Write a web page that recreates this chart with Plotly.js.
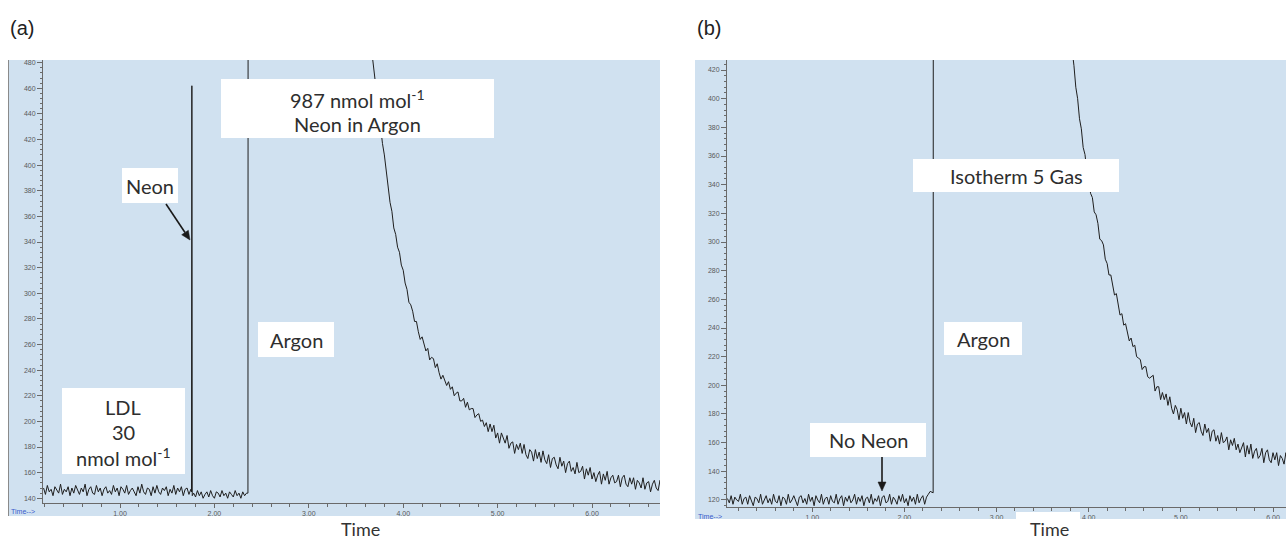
<!DOCTYPE html>
<html><head><meta charset="utf-8">
<script src="https://cdn.plot.ly/plotly-3.0.1.min.js"></script>
<style>html,body{margin:0;padding:0;background:#fff}#chart{width:1286px;height:541px}</style>
</head><body><div id="chart"></div>
<script>
// ---------- Panel (a): 987 nmol/mol Neon in Argon (time in min, detector response) ----------
const aBaseT = [0.19,0.21,0.23,0.25,0.27,0.29,0.31,0.33,0.35,0.37,0.39,0.41,0.43,0.45,0.47,0.49,0.51,0.53,0.55,0.57,0.59,0.61,0.63,0.65,0.67,0.69,0.71,0.73,0.75,0.77,0.79,0.81,0.83,0.85,0.87,0.89,0.91,0.93,0.95,0.97,0.99,1.01,1.03,1.05,1.07,1.09,1.11,1.13,1.15,1.17,1.19,1.21,1.23,1.25,1.27,1.29,1.31,1.33,1.35,1.37,1.39,1.41,1.43,1.45,1.47,1.49,1.51,1.53,1.55,1.57,1.59,1.61,1.63,1.65,1.67,1.69,1.71,1.73,1.75];
const aBaseV = [148,143,150,145,147,142,149,146,144,151,143,147,145,149,142,148,144,150,146,143,148,145,151,142,147,149,144,143,150,145,148,142,147,149,144,146,143,150,145,148,142,149,147,144,150,143,146,148,145,142,149,144,151,145,143,148,147,142,149,144,150,145,143,148,146,149,142,147,144,150,143,148,145,149,142,147,148,143,147];
const aNeonT = [1.757,1.761,1.765];
const aNeonV = [145,462,142];
const aGapT = [1.78,1.80,1.82,1.84,1.86,1.88,1.90,1.92,1.94,1.96,1.98,2.00,2.02,2.04,2.06,2.08,2.10,2.12,2.14,2.16,2.18,2.20,2.22,2.24,2.26,2.28,2.30,2.32,2.34];
const aGapV = [144,141,146,142,145,140,143,145,141,146,142,140,145,144,141,146,142,144,140,145,143,141,146,142,144,140,145,142,144];
const aArgonT = [2.355,2.36,3.62];
const aArgonV = [144,1200,1200];
const aDecayT = [3.66,3.68,3.70,3.72,3.74,3.76,3.78,3.80,3.82,3.84,3.86,3.88,3.90,3.92,3.94,3.96,3.98,4.00,4.02,4.04,4.06,4.08,4.10,4.12,4.14,4.16,4.18,4.20,4.22,4.24,4.26,4.28,4.30,4.32,4.34,4.36,4.38,4.40,4.42,4.44,4.46,4.48,4.50,4.52,4.54,4.56,4.58,4.60,4.62,4.64,4.66,4.68,4.70,4.72,4.74,4.76,4.78,4.80,4.82,4.84,4.86,4.88,4.90,4.92,4.94,4.96,4.98,5.00,5.02,5.04,5.06,5.08,5.10,5.12,5.14,5.16,5.18,5.20,5.22,5.24,5.26,5.28,5.30,5.32,5.34,5.36,5.38,5.40,5.42,5.44,5.46,5.48,5.50,5.52,5.54,5.56,5.58,5.60,5.62,5.64,5.66,5.68,5.70,5.72,5.74,5.76,5.78,5.80,5.82,5.84,5.86,5.88,5.90,5.92,5.94,5.96,5.98,6.00,6.02,6.04,6.06,6.08,6.10,6.12,6.14,6.16,6.18,6.20,6.22,6.24,6.26,6.28,6.30,6.32,6.34,6.36,6.38,6.40,6.42,6.44,6.46,6.48,6.50,6.52,6.54,6.56,6.58,6.60,6.62,6.64,6.66,6.68,6.70,6.72,6.74];
const aDecayV = [493,480,465,455,440,431,417,408,394,385,371,364,351,346,336,332,322,318,308,303,293,291,286,278,278,270,264,266,261,255,257,248,250,249,242,245,238,233,236,232,228,231,225,227,220,222,223,216,216,218,211,215,209,210,210,203,205,206,200,201,196,199,192,198,192,197,187,191,183,191,186,183,189,179,183,184,175,182,178,183,175,182,174,171,178,176,169,178,171,176,168,177,170,167,174,164,171,172,166,163,172,165,169,160,167,169,161,164,159,168,160,161,165,155,163,158,164,155,160,153,158,161,151,159,154,161,151,156,158,152,153,158,149,156,158,151,149,156,151,156,147,154,152,148,156,147,152,153,145,151,154,148,146,154,148];

// ---------- Panel (b): Isotherm 5 Gas ----------
const bBaseT = [0.08,0.10,0.12,0.14,0.16,0.18,0.20,0.22,0.24,0.26,0.28,0.30,0.32,0.34,0.36,0.38,0.40,0.42,0.44,0.46,0.48,0.50,0.52,0.54,0.56,0.58,0.60,0.62,0.64,0.66,0.68,0.70,0.72,0.74,0.76,0.78,0.80,0.82,0.84,0.86,0.88,0.90,0.92,0.94,0.96,0.98,1.00,1.02,1.04,1.06,1.08,1.10,1.12,1.14,1.16,1.18,1.20,1.22,1.24,1.26,1.28,1.30,1.32,1.34,1.36,1.38,1.40,1.42,1.44,1.46,1.48,1.50,1.52,1.54,1.56,1.58,1.60,1.62,1.64,1.66,1.68,1.70,1.72,1.74,1.76,1.78,1.80,1.82,1.84,1.86,1.88,1.90,1.92,1.94,1.96,1.98,2.00,2.02,2.04,2.06,2.08,2.10,2.12,2.14,2.16,2.18,2.20,2.22,2.24,2.26,2.28];
const bBaseV = [121,118,123,117,122,120,119,124,117,121,122,117,123,119,116,122,121,118,124,117,120,123,118,121,117,124,119,118,123,116,122,121,117,124,118,120,123,119,116,122,123,118,121,117,124,119,122,116,123,120,118,124,117,121,122,117,123,119,118,124,117,121,123,116,122,119,123,118,120,124,117,122,119,123,116,121,122,118,124,117,121,119,123,116,122,123,118,119,124,117,122,120,117,123,119,124,118,121,116,123,119,122,117,124,118,121,123,117,122,124,126];
const bArgonT = [2.312,2.317,3.78];
const bArgonV = [125,1200,1200];
const bDecayT = [3.82,3.84,3.86,3.88,3.90,3.92,3.94,3.96,3.98,4.00,4.02,4.04,4.06,4.08,4.10,4.12,4.14,4.16,4.18,4.20,4.22,4.24,4.26,4.28,4.30,4.32,4.34,4.36,4.38,4.40,4.42,4.44,4.46,4.48,4.50,4.52,4.54,4.56,4.58,4.60,4.62,4.64,4.66,4.68,4.70,4.72,4.74,4.76,4.78,4.80,4.82,4.84,4.86,4.88,4.90,4.92,4.94,4.96,4.98,5.00,5.02,5.04,5.06,5.08,5.10,5.12,5.14,5.16,5.18,5.20,5.22,5.24,5.26,5.28,5.30,5.32,5.34,5.36,5.38,5.40,5.42,5.44,5.46,5.48,5.50,5.52,5.54,5.56,5.58,5.60,5.62,5.64,5.66,5.68,5.70,5.72,5.74,5.76,5.78,5.80,5.82,5.84,5.86,5.88,5.90,5.92,5.94,5.96,5.98,6.00,6.02,6.04,6.06,6.08,6.10,6.12,6.14,6.16];
const bDecayV = [434,423,408,400,386,379,366,361,349,345,334,331,321,319,313,302,301,298,288,285,277,277,271,263,264,255,249,250,242,243,238,231,233,227,228,220,219,218,211,213,213,206,205,206,207,196,199,199,190,195,190,194,186,192,184,180,186,183,176,184,177,181,173,181,174,171,177,167,173,174,168,165,173,167,170,161,168,169,161,165,159,167,160,161,164,155,162,158,163,155,159,153,157,160,150,158,152,159,149,154,156,149,151,156,146,153,155,148,146,153,148,153,144,151,149,145,153,144];

// ---------- Tick labels ----------
const xTickVals = [1,2,3,4,5,6];
const xTickText = ['1.00','2.00','3.00','4.00','5.00','6.00'];

const W = 1286, H = 541;
const px = x => x / W, py = y => 1 - y / H;

const aT = [].concat(aBaseT, aNeonT, aGapT, aArgonT, aDecayT);
const aV = [].concat(aBaseV, aNeonV, aGapV, aArgonV, aDecayV);
const bT = [].concat(bBaseT, bArgonT, bDecayT);
const bV = [].concat(bBaseV, bArgonV, bDecayV);

const lineStyle = {color: '#1e1e1e', width: 1};
const traces = [
  {x: aT, y: aV, type: 'scatter', mode: 'lines', line: lineStyle, xaxis: 'x', yaxis: 'y', hoverinfo: 'skip', showlegend: false},
  {x: bT, y: bV, type: 'scatter', mode: 'lines', line: lineStyle, xaxis: 'x2', yaxis: 'y2', hoverinfo: 'skip', showlegend: false}
];

const tickFont = {family: 'Liberation Sans, Arial, sans-serif', size: 7, color: '#5a5a5a'};
function xAxis(domain, range, anchor) {
  return {domain, range, anchor, showline: true, linecolor: '#6a6a6a', linewidth: 1,
    ticks: 'outside', ticklen: 4, tickcolor: '#6a6a6a', tickwidth: 1,
    tickmode: 'array', tickvals: xTickVals, ticktext: xTickText, tickfont: tickFont,
    minor: {dtick: 0.2, tick0: 0, ticks: 'outside', ticklen: 3, tickcolor: '#6a6a6a', showgrid: false},
    showgrid: false, zeroline: false, fixedrange: true};
}
function yAxis(domain, range, anchor) {
  return {domain, range, anchor, showline: true, linecolor: '#6a6a6a', linewidth: 1,
    ticks: 'outside', ticklen: 5, tickcolor: '#6a6a6a', tickwidth: 1,
    dtick: 20, tick0: 0, tickfont: tickFont,
    minor: {dtick: 4, tick0: 0, ticks: 'outside', ticklen: 2.5, tickcolor: '#6a6a6a', showgrid: false},
    showgrid: false, zeroline: false, fixedrange: true};
}

const BLUE = 'rgb(208,225,240)';
function rect(x0, y0, x1, y1, fill, layer) {
  return {type: 'rect', xref: 'paper', yref: 'paper', x0: px(x0), x1: px(x1), y0: py(y1), y1: py(y0),
    fillcolor: fill, line: {width: 0}, layer: layer};
}
function arrowShapes(hx, hy, tx, ty) {
  const dx = hx - tx, dy = hy - ty, L = Math.hypot(dx, dy);
  const ux = dx / L, uy = dy / L, len = 9, hw = 4;
  const bx = hx - ux * len, by = hy - uy * len;
  const p1x = bx - uy * hw, p1y = by + ux * hw, p2x = bx + uy * hw, p2y = by - ux * hw;
  return [
    {type: 'line', xref: 'paper', yref: 'paper', x0: px(tx), y0: py(ty), x1: px(bx), y1: py(by),
      line: {color: '#1a1a1a', width: 1.6}, layer: 'above'},
    {type: 'path', xref: 'paper', yref: 'paper',
      path: `M ${px(hx)} ${py(hy)} L ${px(p1x)} ${py(p1y)} L ${px(p2x)} ${py(p2y)} Z`,
      fillcolor: '#1a1a1a', line: {color: '#1a1a1a', width: 0.5}, layer: 'above'}
  ];
}
const shapes = [
  rect(8, 60, 660, 516, BLUE, 'below'),
  rect(695, 60, 1286, 519, BLUE, 'below'),
  {type: 'line', xref: 'paper', yref: 'paper', x0: px(8.5), x1: px(8.5), y0: py(516), y1: py(60), line: {color: '#8a8a8a', width: 1}, layer: 'below'},
  rect(0, 0, 1286, 60, '#ffffff', 'above'),
  rect(680, 519, 1286, 541, '#ffffff', 'above'),
  rect(1016, 512, 1080, 541, '#ffffff', 'above'),
  rect(221, 79, 494, 138, '#ffffff', 'above'),
  rect(122, 168, 178, 203, '#ffffff', 'above'),
  rect(258, 322, 334, 357, '#ffffff', 'above'),
  rect(62, 388, 185, 474, '#ffffff', 'above'),
  rect(913, 159, 1119, 192, '#ffffff', 'above'),
  rect(944, 322, 1022, 355, '#ffffff', 'above'),
  rect(810, 423, 926, 457, '#ffffff', 'above')
].concat(arrowShapes(190, 240, 166, 204), arrowShapes(882, 491, 882, 457));

const boxFont = {family: 'Lato, Liberation Sans, sans-serif', size: 20, color: '#2e2e2e'};
function txt(x, y, text, font, xanchor) {
  return {xref: 'paper', yref: 'paper', x: px(x), y: py(y), text, showarrow: false,
    xanchor: xanchor || 'center', yanchor: 'middle', font: font || boxFont, align: 'center'};
}
const panelFont = {family: 'Liberation Sans, Arial, sans-serif', size: 20, color: '#222'};
const timeFont = {family: 'Lato, Liberation Sans, sans-serif', size: 18, color: '#333'};
const smallBlue = {family: 'Liberation Sans, Arial, sans-serif', size: 7, color: '#3a5ccc'};
const annotations = [
  txt(8, 28, '(a)', panelFont, 'left'),
  txt(695, 28, '(b)', panelFont, 'left'),
  txt(357, 99, '987 nmol mol<sup>-1</sup>'),
  txt(357, 124, 'Neon in Argon'),
  txt(150, 186, 'Neon'),
  txt(296, 340, 'Argon'),
  txt(123, 407, 'LDL'),
  txt(123, 432, '30'),
  txt(123, 457, 'nmol mol<sup>-1</sup>'),
  txt(1016, 176, 'Isotherm 5 Gas'),
  txt(983, 339, 'Argon'),
  txt(868, 440, 'No Neon'),
  txt(360, 529, 'Time', timeFont),
  txt(1049, 529, 'Time', timeFont),
  txt(9, 511, 'Time--&gt;', smallBlue, 'left'),
  txt(696, 516, 'Time--&gt;', smallBlue, 'left')
];

const layout = {
  width: W, height: H, margin: {l: 0, r: 0, t: 0, b: 0},
  paper_bgcolor: '#ffffff', plot_bgcolor: 'rgba(0,0,0,0)',
  showlegend: false,
  xaxis: xAxis([px(43), px(660)], [0.184, 6.72], 'y'),
  yaxis: yAxis([py(503), py(60)], [136.3, 482.1], 'x'),
  xaxis2: xAxis([px(727), px(1286)], [0.075, 6.141], 'y2'),
  yaxis2: yAxis([py(507), py(60)], [115.1, 427], 'x2'),
  shapes, annotations
};
Plotly.newPlot('chart', traces, layout, {staticPlot: true, displayModeBar: false});
</script></body></html>
